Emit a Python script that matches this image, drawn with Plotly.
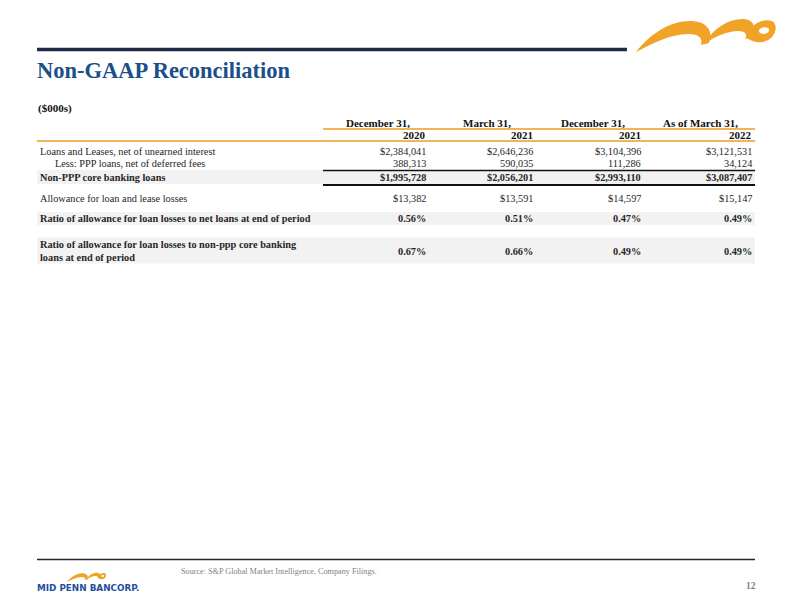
import re
import plotly.graph_objects as go

# ---------------- data ----------------
title = "Non-GAAP Reconciliation"
units = "($000s)"
period_top = ["December 31,", "March 31,", "December 31,", "As of March 31,"]
period_year = ["2020", "2021", "2021", "2022"]

row_labels = [
    "Loans and Leases, net of unearned interest",
    "Less: PPP loans, net of deferred fees",
    "Non-PPP core banking loans",
    "Allowance for loan and lease losses",
    "Ratio of allowance for loan losses to net loans at end of period",
    "Ratio of allowance for loan losses to non-ppp core banking<br>loans at end of period",
]
loans_leases = [2384041, 2646236, 3104396, 3121531]
ppp_loans = [388313, 590035, 111286, 34124]
core_loans = [1995728, 2056201, 2993110, 3087407]
allowance = [13382, 13591, 14597, 15147]
ratio_net = [0.56, 0.51, 0.47, 0.49]
ratio_core = [0.67, 0.66, 0.49, 0.49]

source_text = "Source: S&P Global Market Intelligence, Company Filings."
page_number = "12"
brand = "MID PENN BANCORP."

# ---------------- styling / layout ----------------
W, H = 792, 612
SERIF = "Liberation Serif, Cambria, serif"
NAVY = "#1F2B47"
TITLE_BLUE = "#1B4F8A"
ORANGE = "#F0A326"
ORANGE_LINE = "#F2B457"
GRAY_BAND = "#F2F2F2"
TXT = "#262626"
BODY = 10.3

col_right = [426, 533, 641, 752]
col_head_center = [378, 487, 593, 700]
left_x = 37
right_x = 755
table_left_vals = 323

def money(v):
    return "${:,}".format(v)

def plain(v):
    return "{:,}".format(v)

def pct(v):
    return "{:.2f}%".format(v)

rows = [
    dict(label=row_labels[0], vals=[money(v) for v in loans_leases], y=151, bold=False, indent=0),
    dict(label=row_labels[1], vals=[plain(v) for v in ppp_loans], y=163.5, bold=False, indent=15),
    dict(label=row_labels[2], vals=[money(v) for v in core_loans], y=177.5, bold=True, indent=0),
    dict(label=row_labels[3], vals=[money(v) for v in allowance], y=198, bold=False, indent=0),
    dict(label=row_labels[4], vals=[pct(v) for v in ratio_net], y=218.5, bold=True, indent=0),
    dict(label=row_labels[5], vals=[pct(v) for v in ratio_core], y=251, bold=True, indent=0),
]

fig = go.Figure()
fig.add_trace(go.Scatter(x=[], y=[], hoverinfo="skip", showlegend=False))

shapes = []
annots = []

# gray bands
for (y0, y1) in [(170, 184), (212, 225), (237.5, 263.5)]:
    shapes.append(dict(type="rect", xref="x", yref="y", x0=left_x, x1=right_x, y0=y0, y1=y1,
                       fillcolor=GRAY_BAND, line=dict(width=0), layer="below"))

# top navy rule
shapes.append(dict(type="line", xref="x", yref="y", x0=left_x, x1=627, y0=49.5, y1=49.5,
                   line=dict(color=NAVY, width=3.5)))
# bottom rule
shapes.append(dict(type="line", xref="x", yref="y", x0=left_x, x1=right_x, y0=559.5, y1=559.5,
                   line=dict(color="#1E2B33", width=1.3)))
# header orange rules
shapes.append(dict(type="line", xref="x", yref="y", x0=table_left_vals, x1=right_x, y0=129, y1=129,
                   line=dict(color=ORANGE_LINE, width=2)))
shapes.append(dict(type="line", xref="x", yref="y", x0=left_x, x1=right_x, y0=141, y1=141,
                   line=dict(color=ORANGE_LINE, width=2)))
# subtotal black rules
shapes.append(dict(type="line", xref="x", yref="y", x0=table_left_vals, x1=right_x, y0=170.5, y1=170.5,
                   line=dict(color="#111111", width=1.3)))
shapes.append(dict(type="line", xref="x", yref="y", x0=table_left_vals, x1=right_x, y0=185, y1=185,
                   line=dict(color="#111111", width=2)))

# logo paths (local coords, then transformed)
logo_blades = [
    "M 0 32 C 14 14 34 1 54 1 C 70 1 78 10 73 23 L 65 25 C 67 18 63 14 52 14 C 34 14 16 24 0 32 Z",
    "M 68 24 C 78 8 92 -1 106 -1 C 117 -1 121 6 117 17 L 109 19 C 112 14 109 11 102 11 C 92 11 80 16 68 24 Z",
    "M 111 18 C 113 5 126 -2 136 1 C 143 5 140 19 127 22 C 120 23 115 21 111 18 Z",
]
logo_hole = "M 123 12 C 122 7 131 6 133 9 C 134 13 127 16 123 12 Z"

def transform(path, s, ox, oy):
    toks = re.findall(r"[A-Za-z]|-?\d+\.?\d*", path)
    out = []
    coord = []
    for t in toks:
        if t.isalpha():
            out.append(t)
        else:
            coord.append(float(t))
            if len(coord) == 2:
                out.append("{:.2f},{:.2f}".format(coord[0] * s + ox, coord[1] * s + oy))
                coord = []
    return " ".join(out)

for (s, ox, oy) in [(1.0, 636, 20), (0.28, 67, 573)]:
    for p in logo_blades:
        shapes.append(dict(type="path", xref="x", yref="y", path=transform(p, s, ox, oy),
                           fillcolor=ORANGE, line=dict(width=0)))
    shapes.append(dict(type="path", xref="x", yref="y", path=transform(logo_hole, s, ox, oy),
                       fillcolor="white", line=dict(width=0)))

# title
annots.append(dict(x=left_x - 1, y=70, text="<b>" + title + "</b>", xanchor="left", yanchor="middle",
                   font=dict(family=SERIF, size=22.5, color=TITLE_BLUE)))
annots.append(dict(x=left_x, y=108, text="<b>" + units + "</b>", xanchor="left", yanchor="middle",
                   font=dict(family=SERIF, size=11, color="#111111")))

# headers
for c, t in zip(col_head_center, period_top):
    annots.append(dict(x=c, y=122.5, text="<b>" + t + "</b>", xanchor="center", yanchor="middle",
                       font=dict(family=SERIF, size=11, color="#111111")))
for r, t in zip(col_right, period_year):
    annots.append(dict(x=r + 1, y=134.5, text="<b>" + t + "</b>", xanchor="right", yanchor="middle",
                       font=dict(family=SERIF, size=11, color="#111111")))

# rows
for row in rows:
    fmt = (lambda s: "<b>" + s + "</b>") if row["bold"] else (lambda s: s)
    annots.append(dict(x=left_x + 2 + row["indent"], y=row["y"], text=fmt(row["label"]), xanchor="left",
                       yanchor="middle", align="left",
                       font=dict(family=SERIF, size=BODY, color=TXT)))
    for r, v in zip(col_right, row["vals"]):
        annots.append(dict(x=r + 1, y=row["y"], text=fmt(v), xanchor="right", yanchor="middle",
                           font=dict(family=SERIF, size=BODY, color=TXT)))

# footer
annots.append(dict(x=180, y=571, text=source_text, xanchor="left", yanchor="middle",
                   font=dict(family=SERIF, size=8.2, color="#7F7F7F")))
annots.append(dict(x=757, y=586, text="<b>" + page_number + "</b>", xanchor="right", yanchor="middle",
                   font=dict(family=SERIF, size=9.5, color="#7F7F7F")))
annots.append(dict(x=36, y=588, text="<b>" + brand + "</b>", xanchor="left", yanchor="middle",
                   font=dict(family="DejaVu Sans", size=8.8, color="#1F4F9E")))

for a in annots:
    a.update(xref="x", yref="y", showarrow=False, borderpad=0)

fig.update_layout(
    width=W, height=H,
    margin=dict(l=0, r=0, t=0, b=0),
    paper_bgcolor="white", plot_bgcolor="white",
    xaxis=dict(range=[0, W], visible=False, fixedrange=True),
    yaxis=dict(range=[H, 0], visible=False, fixedrange=True),
    shapes=shapes, annotations=annots, showlegend=False,
)

fig.write_html("out.html", config={"displayModeBar": False},
               post_script="document.body.style.margin='0';document.body.style.overflow='hidden';")
